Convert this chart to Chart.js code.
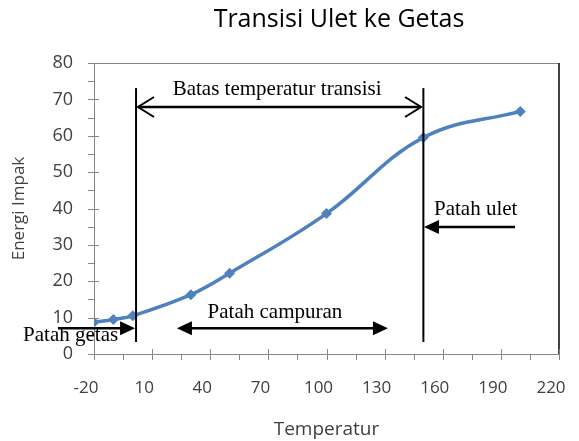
<!DOCTYPE html>
<html>
<head>
<meta charset="utf-8">
<script src="https://cdn.jsdelivr.net/npm/chart.js@4.4.0/dist/chart.umd.min.js"></script>
<style>
  html, body { margin: 0; padding: 0; background: #fff; }
  canvas { display: block; }
</style>
</head>
<body>
<canvas id="grafikTransisi" width="579" height="441"></canvas>
<script>
// data
const temperatur = [-20, -10, 0, 30, 50, 100, 150, 200];
const energiImpak = [8.7, 9.5, 10.5, 16.3, 22.2, 38.6, 59.5, 66.7];
const tickX = [-20, 10, 40, 70, 100, 130, 160, 190, 220];
const tickY = [0, 10, 20, 30, 40, 50, 60, 70, 80];

// annotations (data units)
const garisBatas = [1.7, 150];        // vertical lines
const garisBatasY = [3.3, 73.1];
const teksLabel = ['Batas temperatur transisi', 'Patah ulet', 'Patah campuran', 'Patah getas'];
const teksX = [74.5, 155.5, 73.4, -56.6];
const teksY = [71.2, 38.2, 9.9, 3.6];
const teksAlign = ['center', 'left', 'center', 'left'];
// arrows: [x1, x2, y, headAt1, headAt2, open]
const panah = [
    [2.7, 148.8, 67.9, true, true, true],
    [197.3, 150.3, 34.9, false, true, false],
    [22.8, 131.7, 7.1, true, true, false],
    [-38.6, 1.2, 7.1, false, true, false]
];

const abuAxis = '#868686';

function kepalaPanah(ctx, x, y, arah, terbuka) {
    ctx.beginPath();
    if (terbuka) {
        ctx.moveTo(x - arah * 16, y - 10);
        ctx.lineTo(x, y);
        ctx.lineTo(x - arah * 16, y + 10);
        ctx.stroke();
    } else {
        ctx.moveTo(x, y);
        ctx.lineTo(x - arah * 15, y - 7);
        ctx.lineTo(x - arah * 15, y + 7);
        ctx.closePath();
        ctx.fill();
    }
}

const pluginAnotasi = {
    id: 'anotasi',
    afterDraw(chart) {
        const ctx = chart.ctx;
        const sx = chart.scales.x, sy = chart.scales.y;
        const area = chart.chartArea;
        ctx.save();

        // plot border top / right
        ctx.strokeStyle = abuAxis;
        ctx.lineWidth = 1;
        ctx.beginPath();
        ctx.moveTo(area.left, area.top + 0.5);
        ctx.lineTo(area.right, area.top + 0.5);
        ctx.stroke();
        ctx.strokeStyle = '#000';
        ctx.lineWidth = 1.5;
        ctx.beginPath();
        ctx.moveTo(area.right, area.top);
        ctx.lineTo(area.right, area.bottom);
        ctx.stroke();

        // tick marks
        ctx.strokeStyle = abuAxis;
        ctx.lineWidth = 1;
        for (let i = 0; i < tickX.length; i++) {
            let px = Math.round(sx.getPixelForValue(tickX[i])) + 0.5;
            ctx.beginPath();
            ctx.moveTo(px, area.bottom - 5);
            ctx.lineTo(px, area.bottom + 6);
            ctx.stroke();
            if (i < tickX.length - 1) {
                let pm = Math.round(sx.getPixelForValue(tickX[i] + 15)) + 0.5;
                ctx.beginPath();
                ctx.moveTo(pm, area.bottom);
                ctx.lineTo(pm, area.bottom + 6);
                ctx.stroke();
            }
        }
        for (let i = 0; i < tickY.length; i++) {
            let py = Math.round(sy.getPixelForValue(tickY[i])) + 0.5;
            ctx.beginPath();
            ctx.moveTo(area.left - 6, py);
            ctx.lineTo(area.left + 5, py);
            ctx.stroke();
            if (i < tickY.length - 1) {
                let pm = Math.round(sy.getPixelForValue(tickY[i] + 5)) + 0.5;
                ctx.beginPath();
                ctx.moveTo(area.left - 6, pm);
                ctx.lineTo(area.left, pm);
                ctx.stroke();
            }
        }

        // vertical lines
        ctx.strokeStyle = '#000';
        ctx.fillStyle = '#000';
        ctx.lineWidth = 2;
        garisBatas.forEach(v => {
            let px = sx.getPixelForValue(v);
            ctx.beginPath();
            ctx.moveTo(px, sy.getPixelForValue(garisBatasY[1]));
            ctx.lineTo(px, sy.getPixelForValue(garisBatasY[0]));
            ctx.stroke();
        });

        // arrows
        panah.forEach(p => {
            let x1 = sx.getPixelForValue(p[0]);
            let x2 = sx.getPixelForValue(p[1]);
            let y = sy.getPixelForValue(p[2]);
            let arah = x2 > x1 ? 1 : -1;
            ctx.lineWidth = 2.5;
            ctx.beginPath();
            ctx.moveTo(x1 + (p[3] && !p[5] ? arah * 10 : 0), y);
            ctx.lineTo(x2 - (p[4] && !p[5] ? arah * 10 : 0), y);
            ctx.stroke();
            ctx.lineWidth = 2;
            if (p[3]) kepalaPanah(ctx, x1, y, -arah, p[5]);
            if (p[4]) kepalaPanah(ctx, x2, y, arah, p[5]);
        });

        // texts
        ctx.font = '21px "Liberation Serif", "Times New Roman", serif';
        ctx.textBaseline = 'alphabetic';
        for (let i = 0; i < teksLabel.length; i++) {
            ctx.textAlign = teksAlign[i];
            ctx.fillText(teksLabel[i], sx.getPixelForValue(teksX[i]), sy.getPixelForValue(teksY[i]));
        }

        // chart title
        ctx.font = '25px "Open Sans", sans-serif';
        ctx.fillStyle = '#000';
        ctx.textAlign = 'center';
        ctx.textBaseline = 'middle';
        ctx.fillText('Transisi Ulet ke Getas', 339, 20);
        ctx.restore();
    }
};

const ctxGrafik = document.getElementById('grafikTransisi').getContext('2d');
const grafikTransisi = new Chart(ctxGrafik, {
    type: 'line',
    data: {
        datasets: [{
            label: 'Energi Impak',
            data: temperatur.map((t, i) => ({ x: t, y: energiImpak[i] })),
            borderColor: '#4F81BD',
            backgroundColor: '#4F81BD',
            borderWidth: 3.5,
            pointStyle: 'rectRot',
            pointRadius: 5.5,
            pointBorderWidth: 0,
            tension: 0.4,
            fill: false
        }]
    },
    options: {
        responsive: false,
        animation: false,
        devicePixelRatio: 1,
        layout: { padding: { left: 0, right: 20, top: 63, bottom: 0 } },
        plugins: {
            legend: { display: false },
            title: { display: false },
            tooltip: { enabled: false }
        },
        scales: {
            x: {
                type: 'linear',
                min: -20,
                max: 220,
                afterBuildTicks(scale) { scale.ticks = tickX.map(v => ({ value: v })); },
                ticks: {
                    font: { family: 'Open Sans', size: 17 },
                    color: '#404040',
                    padding: 0,
                    labelOffset: -8,
                    maxRotation: 0
                },
                grid: { display: false, drawTicks: true, tickLength: 24 },
                border: { color: abuAxis },
                title: {
                    display: true,
                    text: 'Temperatur',
                    font: { family: 'Open Sans', size: 19 },
                    color: '#404040',
                    padding: { top: 0, bottom: 0 }
                },
                afterFit(scale) { scale.height = 87; }
            },
            y: {
                min: 0,
                max: 80,
                afterBuildTicks(scale) { scale.ticks = tickY.map(v => ({ value: v })); },
                ticks: {
                    font: { family: 'Open Sans', size: 18 },
                    color: '#404040',
                    padding: 21
                },
                grid: { display: false, drawTicks: false },
                border: { color: abuAxis },
                title: {
                    display: true,
                    text: 'Energi Impak',
                    font: { family: 'Open Sans', size: 17 },
                    color: '#404040',
                    padding: { top: 9, bottom: 0 }
                },
                afterFit(scale) { scale.width = 94; }
            }
        }
    },
    plugins: [pluginAnotasi]
});
</script>
</body>
</html>
